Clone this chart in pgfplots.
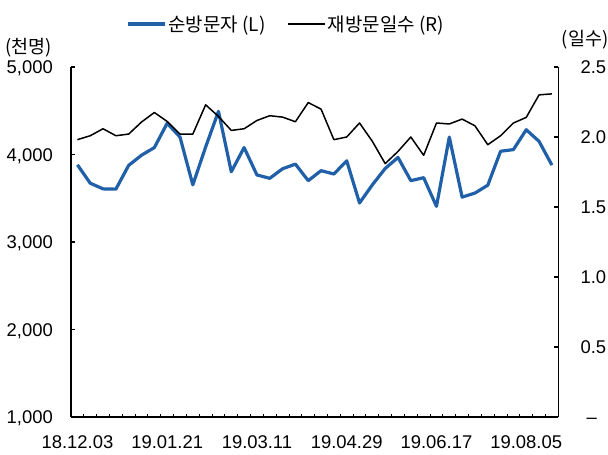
\documentclass[border=0pt]{standalone}
\usepackage{fontspec}
\setmainfont{Liberation Sans}
\newfontfamily\kr{Noto Sans CJK KR}
\usepackage{pgfplots}
\usepackage{pgfplotstable}
\pgfplotsset{compat=1.18}
\definecolor{blueL}{RGB}{31,96,168}

\pgfplotstableread{
x L R
0 3882 1.981
1 3672 2.009
2 3607 2.059
3 3604 2.009
4 3876 2.021
5 3992 2.107
6 4079 2.175
7 4357 2.111
8 4199 2.021
9 3653 2.021
10 4086 2.230
11 4493 2.147
12 3803 2.047
13 4079 2.059
14 3766 2.118
15 3728 2.152
16 3837 2.142
17 3890 2.109
18 3701 2.246
19 3815 2.199
20 3777 1.981
21 3928 2.000
22 3446 2.100
23 3653 1.969
24 3840 1.810
25 3966 1.897
26 3701 2.000
27 3735 1.869
28 3407 2.100
29 4199 2.093
30 3513 2.128
31 3559 2.080
32 3649 1.945
33 4037 2.009
34 4056 2.100
35 4283 2.140
36 4150 2.301
37 3879 2.308
}\data

\begin{document}
\begin{tikzpicture}
\pgfplotsset{common/.style={
  scale only axis, width=487.3bp, height=350bp,
  at={(0,0)}, anchor=south west,
  xmin=-0.5, xmax=37.5,
  /pgf/number format/assume math mode=true,
  tick label style={font=\fontsize{18.5}{22}\selectfont, inner sep=0pt},
  axis line style={-, line width=1.6bp},
  tick align=inside,
  major tick length=4bp,
  tick style={line width=1.2bp, black},
  clip=false,
}}
\begin{axis}[common,
  axis x line*=bottom, axis y line*=left,
  ymin=1000, ymax=5000,
  ytick={1000,2000,3000,4000,5000},
  yticklabels={{1,000},{2,000},{3,000},{4,000},{5,000}},
  yticklabel style={anchor=base east, xshift=-18bp, yshift=-6.6bp},
  xtick={0,7,14,21,28,35},
  xticklabels={18.12.03,19.01.21,19.03.11,19.04.29,19.06.17,19.08.05},
  major x tick style={draw=none},
  minor xtick={0.5,1.5,...,36.5},
  minor tick length=3bp,
  minor x tick style={line width=0.9bp, black},
  xticklabel style={anchor=base, yshift=-31bp},
]
\addplot[blueL, line width=3.2bp, line join=round] table[x=x,y=L]{\data};
\node[font=\kr\fontsize{18.5}{21}\selectfont] at (axis description cs:-0.087,1.054) {(천명)};
\end{axis}
\begin{axis}[common,
  axis x line=none, axis y line*=right,
  ymin=0, ymax=2.5,
  ytick={0,0.5,1,1.5,2,2.5},
  yticklabels={{\hspace{6bp}–},0.5,1.0,1.5,2.0,2.5},
  yticklabel style={anchor=base west, xshift=22bp, yshift=-6.6bp},
  legend style={draw=none, fill=none, at={(0.113,1.123)}, anchor=west,
    font=\kr\fontsize{19}{22}\selectfont, inner sep=0pt,
    nodes={inner sep=2bp},
    /tikz/every even column/.append style={column sep=20bp}},
  legend columns=2,
  legend image code/.code={\draw[#1] (0bp,0bp) -- (37bp,0bp);},
]
\addlegendimage{blueL, line width=3.2bp}
\addlegendentry{순방문자 (L)}
\addplot[black, line width=1.5bp, line join=round] table[x=x,y=R]{\data};
\addlegendentry{재방문일수 (R)}
\node[font=\kr\fontsize{18.5}{21}\selectfont] at (axis description cs:1.055,1.077) {(일수)};
\end{axis}
\pgfresetboundingbox
\path[use as bounding box] (-71bp,-38bp) rectangle (537bp,417bp);
\end{tikzpicture}
\end{document}
